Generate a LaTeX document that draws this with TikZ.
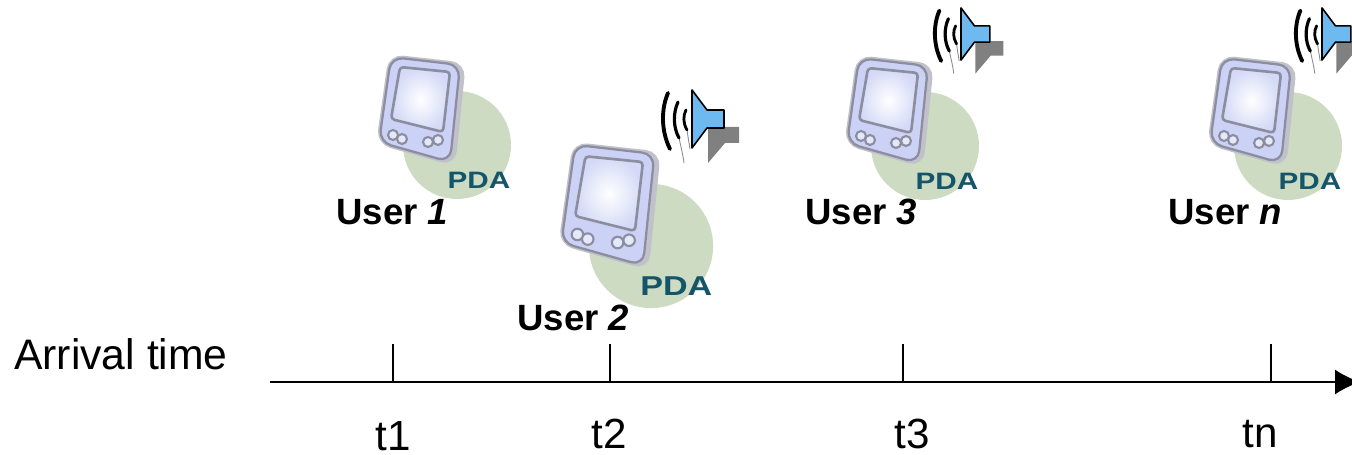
\documentclass[tikz,border=0pt]{standalone}
\usepackage{fontspec}
\usetikzlibrary{arrows.meta}
\setmainfont{Liberation Sans}
\definecolor{pdagreen}{RGB}{204,219,194}
\definecolor{pdateal}{RGB}{20,85,105}
\definecolor{pdabody}{RGB}{203,210,245}
\definecolor{pdaedge}{RGB}{140,142,160}
\definecolor{hornblue}{RGB}{110,185,240}
\begin{document}
\begin{tikzpicture}[x=0.02cm, y=0.02cm]
        \tikzset{>=latex}
        \tikzset{pics/pda/.style={code={
            \fill[pdagreen] (0,0) circle (54);
            \filldraw[pdabody!70, draw=pdaedge!55, line width=3pt, rounded corners=7pt] (-66,88) -- (6,80) -- (-4,-18) -- (-78,3) -- cycle;
            \filldraw[pdabody, draw=pdaedge, line width=1.3pt, rounded corners=7pt] (-66,88) -- (3,80) -- (-7,-17) -- (-78,3) -- cycle;
            \shade[inner color=white, outer color=pdabody!85, draw=pdaedge, line width=1.5pt, rounded corners=2pt] (-57,78) -- (-7,73) -- (-14,13) -- (-66,26) -- cycle;
            \draw[pdaedge, line width=1.2pt, fill=pdabody!50] (-64,10) circle (5) (-55,6) circle (5) (-29,3) circle (5) (-19,5) circle (5);
            \node[text=pdateal, font=\fontsize{13.5}{13.5}\bfseries, xscale=1.25, transform shape] (-label) at (22,-35) {PDA};
        }}}
        \tikzset{pics/horn/.style={code={
            \fill[black!50] (16,-44) -- (16,-8) -- (47,-8) -- (47,-24) -- (33,-24) -- cycle;
            \draw[black!45, line width=0.5pt] (-13,-19) .. controls (-11,-28) and (-9,-36) .. (-8,-44);
            \draw[black!45, line width=0.5pt] (-5,-11) .. controls (-4,-18) and (-3,-24) .. (-2,-30);
            \draw[line width=2.2pt, line cap=round] (-24,26) .. controls (-31,10) and (-31,-12) .. (-22,-30);
            \draw[line width=1.8pt, line cap=round] (-14,17) .. controls (-19,6) and (-19,-8) .. (-13,-19);
            \draw[line width=1.6pt, line cap=round] (-6,9) .. controls (-9,3) and (-9,-4) .. (-5,-11);
            \filldraw[fill=hornblue, draw=black, line width=0.9pt, line join=round] (0,29) -- (15,9) -- (32,9) -- (32,-9) -- (15,-9) -- (0,-29) -- cycle;
        }}}
        \useasboundingbox (0,0) rectangle (1352,455);
        \clip (0,0) rectangle (1352,455);
        \coordinate (start) at (270,73);
        \coordinate (end) at (1360,73);
        \coordinate (T1) at (393,73);
        \coordinate (T2) at (610,73);
        \coordinate (T3) at (903,73);
        \coordinate (Tn) at (1271,73);
        \coordinate (T1top) at (393,111);
        \coordinate (T2top) at (610,111);
        \coordinate (T3top) at (903,111);
        \coordinate (Tntop) at (1271,111);
        \pic (pda1) at (457,310) {pda};
        \pic (pda2) [scale=1.15] at (651,209) {pda};
        \pic (pda3) at (925,309) {pda};
        \pic (pdan) at (1288,309) {pda};
        \pic (horn2) at (692,336) {horn};
        \pic (horn3) [scale=0.9] at (961,421) {horn};
        \pic (hornn) [scale=0.9] at (1322,421) {horn};
        \node[anchor=base west, inner sep=0pt, font=\fontsize{20.8}{20.8}\bfseries] (user1) at (336,230) {User \textit{1}};
        \node[anchor=base west, inner sep=0pt, font=\fontsize{20.8}{20.8}\bfseries] (user2) at (517,124) {User \textit{2}};
        \node[anchor=base west, inner sep=0pt, font=\fontsize{20.8}{20.8}\bfseries] (user3) at (805,230) {User \textit{3}};
        \node[anchor=base west, inner sep=0pt, font=\fontsize{20.8}{20.8}\bfseries] (usern) at (1168,230) {User \textit{n}};
        \node[font=\fontsize{24.3}{24.3}\selectfont] (arrival) at (121,101) {Arrival time};
        \draw[-{Latex[length=0.5cm,width=0.5cm]}, line width=0.8pt] (start) -- (end);
        \draw[line width=0.8pt] (T1) -- (T1top);
        \draw[line width=0.8pt] (T2) -- (T2top);
        \draw[line width=0.8pt] (T3) -- (T3top);
        \draw[line width=0.8pt] (Tn) -- (Tntop);
        \node[inner sep=0pt, font=\fontsize{24}{24}\selectfont] (t1) at (393,19) {t1};
        \node[inner sep=0pt, font=\fontsize{24}{24}\selectfont] (t2) at (609,21) {t2};
        \node[inner sep=0pt, font=\fontsize{24}{24}\selectfont] (t3) at (912,21) {t3};
        \node[inner sep=0pt, font=\fontsize{24}{24}\selectfont] (tn) at (1260,21) {tn};
    \end{tikzpicture}
\end{document}
